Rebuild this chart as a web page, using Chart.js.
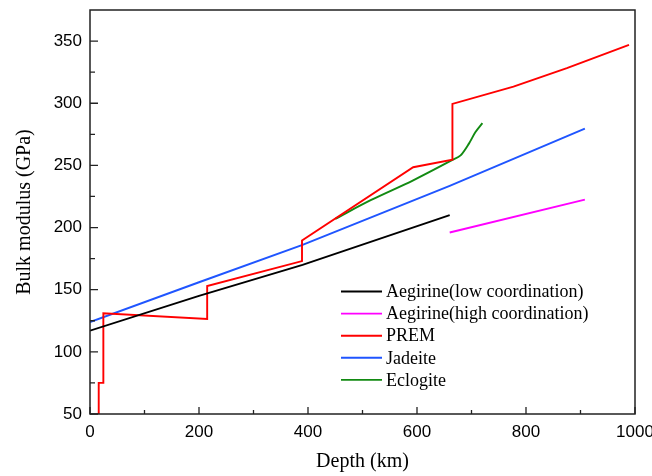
<!DOCTYPE html>
<html>
<head>
<meta charset="utf-8">
<script src="https://cdn.jsdelivr.net/npm/chart.js@4.4.1/dist/chart.umd.min.js"></script>
<style>
  html, body { margin: 0; padding: 0; background: #fff; }
  #wrap { width: 652px; height: 476px; }
</style>
</head>
<body>
<div id="wrap"><canvas id="bulkChart" width="652" height="476"></canvas></div>
<script>
// depth (km) / bulk modulus (GPa)
const lowDepth = [0, 200, 390, 660];
const lowValue = [117, 145, 170, 210];

const highDepth = [660, 908];
const highValue = [196, 222.5];

const premDepth = [16, 16, 24.5, 24.5, 215, 215, 389, 389, 593, 665, 665, 777, 875, 989];
const premValue = [50, 75, 75, 131, 126.5, 153, 173, 189.6, 248.5, 254.5, 299.5, 313.3, 328.3, 347];

const jadeiteDepth = [0, 200, 390, 660, 908];
const jadeiteValue = [124, 156, 186, 233.5, 279.5];

const eclogiteDepth = [450, 515, 593, 665, 680, 695, 707, 720];
const eclogiteValue = [207, 222, 238, 254.4, 258, 267.3, 276.6, 284];

const xTicks = [0, 200, 400, 600, 800, 1000];
const yTicks = [50, 100, 150, 200, 250, 300, 350];
const xMinor = [100, 300, 500, 700, 900];
const yMinor = [75, 125, 175, 225, 275, 325];

const seriesLabels = ['Aegirine(low coordination)', 'Aegirine(high coordination)', 'PREM', 'Jadeite', 'Eclogite'];
const seriesColors = ['#000000', '#ff00ff', '#ff0000', '#1f55ff', '#128a12'];

function toPoints(xs, ys) {
    return xs.map((x, i) => ({ x: x, y: ys[i] }));
}

const seriesData = [
    toPoints(lowDepth, lowValue),
    toPoints(highDepth, highValue),
    toPoints(premDepth, premValue),
    toPoints(jadeiteDepth, jadeiteValue),
    toPoints(eclogiteDepth, eclogiteValue)
];

const datasets = seriesData.map((pts, i) => ({
    label: seriesLabels[i],
    data: pts,
    borderColor: seriesColors[i],
    backgroundColor: seriesColors[i],
    borderWidth: 1.9,
    pointRadius: 0,
    fill: false,
    tension: 0,
    cubicInterpolationMode: i === 4 ? 'monotone' : 'default'
}));

// frame + inward tick marks
const framePlugin = {
    id: 'frame',
    afterDatasetsDraw(chart) {
        const ctx = chart.ctx;
        const a = chart.chartArea;
        const xs = chart.scales.x;
        const ys = chart.scales.y;
        ctx.save();
        ctx.strokeStyle = '#222';
        ctx.lineWidth = 1.5;
        ctx.strokeRect(a.left, a.top, a.right - a.left, a.bottom - a.top);
        ctx.lineWidth = 1.3;
        ctx.beginPath();
        xTicks.forEach(v => {
            const px = xs.getPixelForValue(v);
            ctx.moveTo(px, a.bottom);
            ctx.lineTo(px, a.bottom - 7);
        });
        xMinor.forEach(v => {
            const px = xs.getPixelForValue(v);
            ctx.moveTo(px, a.bottom);
            ctx.lineTo(px, a.bottom - 4);
        });
        yTicks.forEach(v => {
            const py = ys.getPixelForValue(v);
            ctx.moveTo(a.left, py);
            ctx.lineTo(a.left + 8, py);
        });
        yMinor.forEach(v => {
            const py = ys.getPixelForValue(v);
            ctx.moveTo(a.left, py);
            ctx.lineTo(a.left + 5, py);
        });
        ctx.stroke();
        ctx.restore();
    }
};

// legend drawn inside the plot area
const legendPlugin = {
    id: 'innerLegend',
    afterDatasetsDraw(chart) {
        const ctx = chart.ctx;
        ctx.save();
        ctx.font = '18px "Liberation Serif", "Times New Roman", serif';
        ctx.textBaseline = 'middle';
        ctx.fillStyle = '#000';
        chart.data.datasets.forEach((ds, i) => {
            const y = 291.5 + i * 22.1;
            ctx.strokeStyle = ds.borderColor;
            ctx.lineWidth = 1.9;
            ctx.beginPath();
            ctx.moveTo(341, y);
            ctx.lineTo(382, y);
            ctx.stroke();
            ctx.fillText(ds.label, 386, y + 1);
        });
        ctx.restore();
    }
};

new Chart(document.getElementById('bulkChart').getContext('2d'), {
    type: 'line',
    data: { datasets: datasets },
    plugins: [framePlugin, legendPlugin],
    options: {
        responsive: false,
        animation: false,
        layout: { padding: { top: 10, right: 17, left: 0, bottom: 0 } },
        plugins: {
            legend: { display: false },
            tooltip: { enabled: false }
        },
        scales: {
            x: {
                type: 'linear',
                min: 0,
                max: 1000,
                afterBuildTicks: s => { s.ticks = xTicks.map(v => ({ value: v })); },
                afterFit: s => { s.height = 62; s.paddingLeft = 0; s.paddingRight = 0; },
                grid: { display: false, drawTicks: false },
                border: { display: false },
                ticks: {
                    padding: 8,
                    color: '#000',
                    maxRotation: 0,
                    autoSkip: false,
                    callback: v => String(v),
                    font: { family: '"Liberation Sans", Arial, sans-serif', size: 17 }
                },
                title: {
                    display: true,
                    text: 'Depth (km)',
                    color: '#000',
                    padding: { top: 0, bottom: 2 },
                    font: { family: '"Liberation Serif", "Times New Roman", serif', size: 20 }
                }
            },
            y: {
                type: 'linear',
                min: 50,
                max: 375,
                afterBuildTicks: s => { s.ticks = yTicks.map(v => ({ value: v })); },
                afterFit: s => { s.width = 90; s.paddingTop = 0; s.paddingBottom = 0; },
                grid: { display: false, drawTicks: false },
                border: { display: false },
                ticks: {
                    padding: 8,
                    color: '#000',
                    autoSkip: false,
                    callback: v => String(v),
                    font: { family: '"Liberation Sans", Arial, sans-serif', size: 17 }
                },
                title: {
                    display: true,
                    text: 'Bulk modulus (GPa)',
                    color: '#000',
                    padding: { top: 13, bottom: 0 },
                    font: { family: '"Liberation Serif", "Times New Roman", serif', size: 20 }
                }
            }
        }
    }
});
</script>
</body>
</html>
